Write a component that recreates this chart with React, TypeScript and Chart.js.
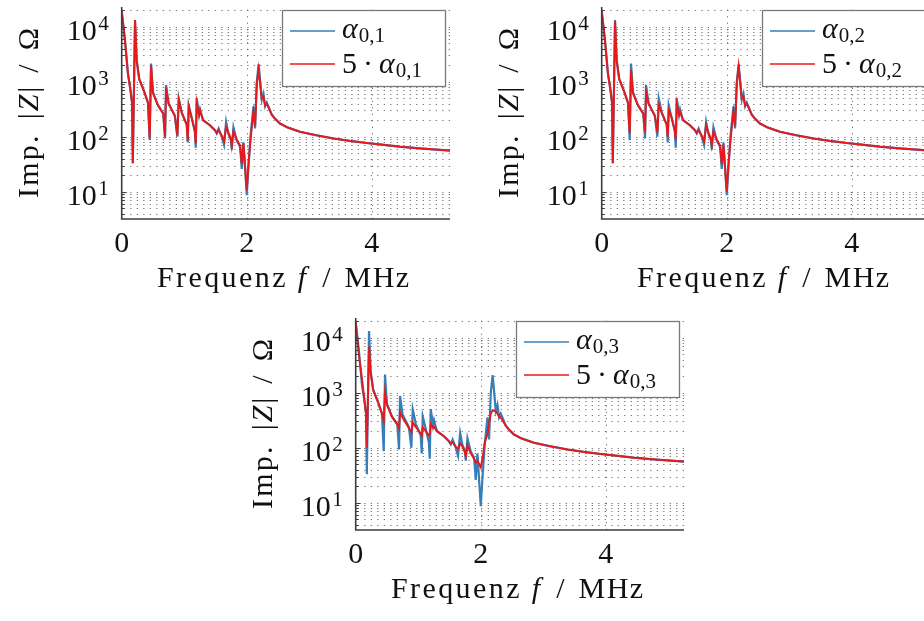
import React, { useEffect, useRef } from "react";
import { Chart, registerables } from "chart.js";

Chart.register(...registerables);

// ---------- data (frequency in MHz, impedance in Ohm) ----------
const FREQ = [
  0, 0.05, 0.1, 0.14, 0.165, 0.178, 0.213, 0.24, 0.28, 0.35,
  0.42, 0.448, 0.469, 0.5, 0.58, 0.665, 0.693, 0.709, 0.75, 0.85,
  0.89, 0.912, 0.96, 1.04, 1.056, 1.072, 1.12, 1.17, 1.184, 1.2,
  1.237, 1.253, 1.3, 1.41, 1.49, 1.52, 1.55, 1.6, 1.637, 1.67,
  1.707, 1.745, 1.76, 1.787, 1.84, 1.893, 1.92, 1.947, 2.0, 2.027,
  2.064, 2.107, 2.133, 2.16, 2.19, 2.24, 2.267, 2.293, 2.32, 2.4,
  2.45, 2.53, 2.65, 2.85, 3.1, 3.39, 3.65, 3.92, 4.2, 4.45,
  4.8, 5.25,
];

// alpha_{0,k} (blue), practically identical for k = 1, 2, 3
const ALPHA = [
  19000, 6000, 1410, 708, 417, 33, 13200, 2450, 1120, 708,
  417, 87, 2140, 631, 372, 263, 93, 871, 398, 240,
  100, 501, 275, 166, 79, 372, 219, 126, 63, 501,
  251, 316, 200, 162, 132, 115, 141, 100, 71, 186,
  112, 89, 58, 148, 85, 66, 26, 79, 8.7, 28,
  115, 355, 141, 1000, 2090, 468, 603, 355, 417, 251,
  214, 174, 148, 123, 107, 93, 84, 77, 71, 66,
  61, 56,
];

// 5 * alpha_{0,1} (red, chart 1)
const ALPHA5_1 = [
  19000, 6000, 1410, 708, 417, 33, 13200, 2450, 1120, 708,
  417, 93, 2000, 631, 372, 263, 100, 794, 398, 240,
  105, 468, 275, 166, 85, 355, 219, 126, 76, 417,
  251, 302, 200, 162, 132, 117, 132, 105, 83, 151,
  117, 93, 69, 126, 89, 69, 32, 76, 10.7, 32,
  100, 282, 158, 891, 1660, 501, 537, 372, 398, 251,
  214, 174, 148, 123, 107, 93, 84, 77, 71, 66,
  61, 56,
];

// 5 * alpha_{0,2} (red, chart 2)
const ALPHA5_2 = [
  19000, 6000, 1410, 708, 417, 33, 12600, 2450, 1120, 708,
  417, 115, 1620, 631, 372, 263, 120, 661, 398, 240,
  120, 380, 275, 166, 100, 309, 219, 126, 87, 398,
  251, 282, 200, 162, 132, 117, 132, 105, 83, 162,
  117, 93, 71, 126, 89, 69, 32, 72, 10, 32,
  100, 282, 158, 891, 1900, 501, 537, 372, 398, 251,
  214, 174, 148, 123, 107, 93, 84, 77, 71, 66,
  61, 56,
];

// 5 * alpha_{0,3} (red, chart 3)
const ALPHA5_3 = [
  19000, 5000, 1780, 708, 417, 100, 6900, 2240, 1120, 708,
  417, 316, 1000, 603, 363, 269, 224, 447, 355, 229,
  191, 288, 240, 182, 166, 234, 200, 166, 178, 269,
  229, 240, 200, 162, 132, 120, 126, 105, 95, 120,
  105, 83, 71, 110, 79, 63, 54, 58, 44, 63,
  126, 178, 282, 417, 479, 457, 417, 372, 355, 251,
  214, 174, 148, 123, 107, 93, 84, 77, 71, 66,
  61, 56,
];

const X_TICKS = [0, 2, 4];
const Y_TICKS = [10, 100, 1000, 10000];
const Y_EXP = ["1", "2", "3", "4"];
const LEGEND_SUBS = ["0,1", "0,2", "0,3"];

const X_MIN = 0;
const X_MAX = 5.25;
const Y_MIN = 3.2;
const Y_MAX = 22800;

// ---------- styles ----------
const BLUE = "#377eb8";
const RED = "#e41a1c";
const SERIF = '"Liberation Serif", "Times New Roman", serif';
const GRID = "rgba(90,90,90,0.8)";
const AXIS = "#3c3c3c";

type Part = { t: string; s: number; i?: boolean; dy?: number; g?: number; ls?: number };

function fontOf(p: Part) {
  return `${p.i ? "italic " : ""}${p.s}px ${SERIF}`;
}

function drawRich(ctx: CanvasRenderingContext2D, parts: Part[], x: number, y: number, align: "left" | "center" | "right") {
  const anyCtx = ctx as any;
  let total = 0;
  const widths = parts.map((p) => {
    ctx.font = fontOf(p);
    anyCtx.letterSpacing = `${p.ls || 0}px`;
    const w = ctx.measureText(p.t).width;
    total += w + (p.g || 0);
    return w;
  });
  let cx = align === "center" ? x - total / 2 : align === "right" ? x - total : x;
  ctx.textAlign = "left";
  ctx.textBaseline = "alphabetic";
  parts.forEach((p, k) => {
    ctx.font = fontOf(p);
    anyCtx.letterSpacing = `${p.ls || 0}px`;
    ctx.fillText(p.t, cx, y + (p.dy || 0));
    cx += widths[k] + (p.g || 0);
  });
  anyCtx.letterSpacing = "0px";
}

const GRID_Y: number[] = [];
for (let k = 0; k <= 4; k++) {
  for (let m = 1; m <= 9; m++) {
    const v = m * Math.pow(10, k);
    if (v >= Y_MIN && v <= Y_MAX) GRID_Y.push(v);
  }
}

function makeDecor(sub: string) {
  return {
    id: "impDecor",
    beforeDatasetsDraw(chart: any) {
      const { ctx, chartArea: a, scales } = chart;
      const x = scales.x;
      const y = scales.y;
      ctx.save();
      ctx.strokeStyle = GRID;
      ctx.lineWidth = 1;
      ctx.setLineDash([1.3, 5.2]);
      for (const v of GRID_Y) {
        const py = Math.round(y.getPixelForValue(v)) + 0.5;
        ctx.beginPath();
        ctx.moveTo(a.left + 2, py);
        ctx.lineTo(a.right, py);
        ctx.stroke();
      }
      for (const v of X_TICKS) {
        if (v === 0) continue;
        const px = Math.round(x.getPixelForValue(v)) + 0.5;
        ctx.beginPath();
        ctx.moveTo(px, a.bottom);
        ctx.lineTo(px, a.top);
        ctx.stroke();
      }
      ctx.restore();
    },
    afterDatasetsDraw(chart: any) {
      const { ctx, chartArea: a, scales } = chart;
      const x = scales.x;
      const y = scales.y;
      ctx.save();
      // minor / major ticks on y axis
      ctx.strokeStyle = AXIS;
      ctx.lineWidth = 1;
      for (const v of GRID_Y) {
        const py = Math.round(y.getPixelForValue(v)) + 0.5;
        const major = Y_TICKS.includes(v);
        ctx.beginPath();
        ctx.moveTo(a.left, py);
        ctx.lineTo(a.left + (major ? 5 : 3), py);
        ctx.stroke();
      }
      // axis lines
      ctx.lineWidth = 1.6;
      ctx.beginPath();
      ctx.moveTo(a.left, a.top);
      ctx.lineTo(a.left, a.bottom);
      ctx.lineTo(a.right, a.bottom);
      ctx.stroke();

      ctx.fillStyle = "#111";
      // y tick labels
      Y_TICKS.forEach((v, k) => {
        const py = y.getPixelForValue(v);
        drawRich(
          ctx,
          [
            { t: "10", s: 30, g: 1.5 },
            { t: Y_EXP[k], s: 21, dy: -10 },
          ],
          a.left - 13,
          py + 13,
          "right"
        );
      });
      // x tick labels
      for (const v of X_TICKS) {
        const px = x.getPixelForValue(v);
        drawRich(ctx, [{ t: String(v), s: 30 }], px, a.bottom + 33, "center");
      }
      // x title
      drawRich(
        ctx,
        [
          { t: "Frequenz", s: 30, ls: 2.4, g: 10 },
          { t: "f", s: 30, i: true, g: 16 },
          { t: "/", s: 30, g: 14 },
          { t: "MHz", s: 30, ls: 1.5 },
        ],
        (a.left + a.right) / 2 - 2,
        a.bottom + 68,
        "center"
      );
      // y title (rotated)
      ctx.save();
      ctx.translate(a.left - 84, (a.top + a.bottom) / 2);
      ctx.rotate(-Math.PI / 2);
      drawRich(
        ctx,
        [
          { t: "Imp.", s: 30, ls: 2.2, g: 14 },
          { t: "|", s: 30, ls: 2 },
          { t: "Z", s: 30, i: true, ls: 2 },
          { t: "|", s: 30, g: 14 },
          { t: "/", s: 30, g: 14 },
          { t: "Ω", s: 30 },
        ],
        0,
        0,
        "center"
      );
      ctx.restore();

      // legend
      const bw = 163;
      const bh = 76;
      const bx = a.right - 5 - bw;
      const by = a.top + 3;
      ctx.setLineDash([]);
      ctx.fillStyle = "#ffffff";
      ctx.fillRect(bx, by, bw, bh);
      ctx.strokeStyle = "#7a7a7a";
      ctx.lineWidth = 1.3;
      ctx.strokeRect(bx + 0.5, by + 0.5, bw, bh);
      const rows = [
        { color: BLUE, ly: 21, by: 27.5, parts: [{ t: "α", s: 30, i: true, g: 1 }, { t: sub, s: 21, dy: 4 }] as Part[] },
        {
          color: RED,
          ly: 54,
          by: 62.5,
          parts: [
            { t: "5", s: 30, g: 6 },
            { t: "·", s: 30, g: 6 },
            { t: "α", s: 30, i: true, g: 1 },
            { t: sub, s: 21, dy: 4 },
          ] as Part[],
        },
      ];
      for (const r of rows) {
        ctx.strokeStyle = r.color;
        ctx.lineWidth = 1.5;
        ctx.beginPath();
        ctx.moveTo(bx + 8, by + r.ly);
        ctx.lineTo(bx + 53, by + r.ly);
        ctx.stroke();
        ctx.fillStyle = "#111";
        drawRich(ctx, r.parts, bx + 60, by + r.by, "left");
      }
      ctx.restore();
    },
  };
}

function toPoints(vals: number[]) {
  return FREQ.map((f, i) => ({ x: f, y: vals[i] }));
}

function ImpChart({ blue, red, sub }: { blue: number[]; red: number[]; sub: string }) {
  const ref = useRef<HTMLCanvasElement | null>(null);
  useEffect(() => {
    if (!ref.current) return;
    const chart = new Chart(ref.current, {
      type: "line",
      data: {
        datasets: [
          {
            label: "5 · α" + sub,
            data: toPoints(red),
            borderColor: RED,
            borderWidth: 2,
            pointRadius: 0,
            tension: 0,
            order: 0,
          },
          {
            label: "α" + sub,
            data: toPoints(blue),
            borderColor: BLUE,
            borderWidth: 2.2,
            pointRadius: 0,
            tension: 0,
            order: 1,
          },
        ],
      },
      options: {
        responsive: false,
        animation: false,
        devicePixelRatio: 1,
        events: [],
        layout: { padding: { left: 121.7, right: 12, top: 7, bottom: 91 } },
        plugins: { legend: { display: false }, tooltip: { enabled: false } },
        scales: {
          x: { type: "linear", min: X_MIN, max: X_MAX, display: false },
          y: { type: "logarithmic", min: Y_MIN, max: Y_MAX, display: false },
        },
      },
      plugins: [makeDecor(sub)],
    } as any);
    return () => chart.destroy();
  }, [blue, red, sub]);
  return <canvas ref={ref} width={462} height={310} style={{ display: "block" }} />;
}

export default function App() {
  useEffect(() => {
    document.body.style.overflow = "hidden";
  }, []);
  return (
    <div>
      <div style={{ position: "absolute", left: 0, top: 0, width: 462, height: 310, overflow: "hidden" }}>
        <ImpChart blue={ALPHA} red={ALPHA5_1} sub={LEGEND_SUBS[0]} />
      </div>
      <div style={{ position: "absolute", left: 480, top: 0, width: 444, height: 310, overflow: "hidden" }}>
        <ImpChart blue={ALPHA} red={ALPHA5_2} sub={LEGEND_SUBS[1]} />
      </div>
      <div style={{ position: "absolute", left: 234, top: 311, width: 462, height: 310, overflow: "hidden" }}>
        <ImpChart blue={ALPHA} red={ALPHA5_3} sub={LEGEND_SUBS[2]} />
      </div>
    </div>
  );
}
